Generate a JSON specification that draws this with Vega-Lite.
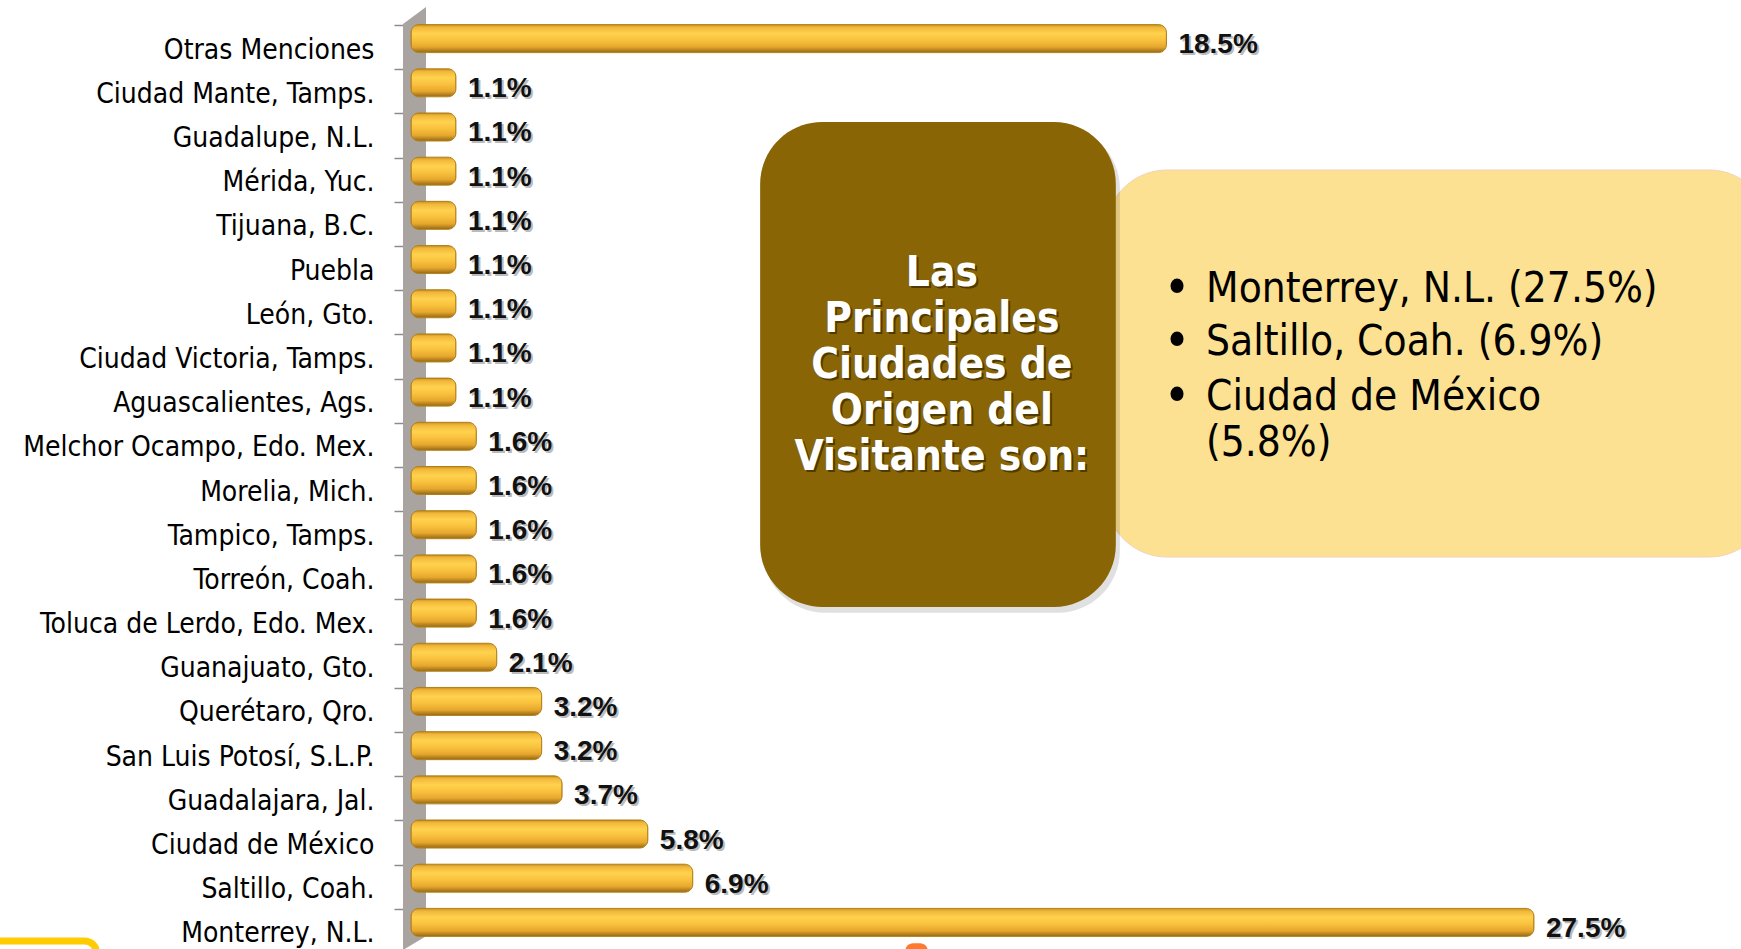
{
  "$schema": "https://vega.github.io/schema/vega-lite/v6.json",
  "width": 1330,
  "height": 928,
  "autosize": {"type": "none"},
  "padding": {"left": 411, "top": 25, "right": 0, "bottom": 0},
  "background": "#ffffff",
  "config": {"view": {"stroke": null}, "font": "DejaVu Sans Condensed, DejaVu Sans"},
  "datasets": {
    "bars": [
      {"city": "Otras Menciones", "pct": 18.5, "label": "18.5%"},
      {"city": "Ciudad Mante, Tamps.", "pct": 1.1, "label": "1.1%"},
      {"city": "Guadalupe, N.L.", "pct": 1.1, "label": "1.1%"},
      {"city": "Mérida, Yuc.", "pct": 1.1, "label": "1.1%"},
      {"city": "Tijuana, B.C.", "pct": 1.1, "label": "1.1%"},
      {"city": "Puebla", "pct": 1.1, "label": "1.1%"},
      {"city": "León, Gto.", "pct": 1.1, "label": "1.1%"},
      {"city": "Ciudad Victoria, Tamps.", "pct": 1.1, "label": "1.1%"},
      {"city": "Aguascalientes, Ags.", "pct": 1.1, "label": "1.1%"},
      {"city": "Melchor Ocampo, Edo. Mex.", "pct": 1.6, "label": "1.6%"},
      {"city": "Morelia, Mich.", "pct": 1.6, "label": "1.6%"},
      {"city": "Tampico, Tamps.", "pct": 1.6, "label": "1.6%"},
      {"city": "Torreón, Coah.", "pct": 1.6, "label": "1.6%"},
      {"city": "Toluca de Lerdo, Edo. Mex.", "pct": 1.6, "label": "1.6%"},
      {"city": "Guanajuato, Gto.", "pct": 2.1, "label": "2.1%"},
      {"city": "Querétaro, Qro.", "pct": 3.2, "label": "3.2%"},
      {"city": "San Luis Potosí, S.L.P.", "pct": 3.2, "label": "3.2%"},
      {"city": "Guadalajara, Jal.", "pct": 3.7, "label": "3.7%"},
      {"city": "Ciudad de México", "pct": 5.8, "label": "5.8%"},
      {"city": "Saltillo, Coah.", "pct": 6.9, "label": "6.9%"},
      {"city": "Monterrey, N.L.", "pct": 27.5, "label": "27.5%"}
    ],
    "title": [
      {"t": "Las", "x": 13.0, "y": 5.61},
      {"t": "Principales", "x": 13.0, "y": 6.65},
      {"t": "Ciudades de", "x": 13.0, "y": 7.69},
      {"t": "Origen del", "x": 13.0, "y": 8.73},
      {"t": "Visitante son:", "x": 13.0, "y": 9.78}
    ]
  },
  "layer": [
    {
      "data": {"values": [
        {"x": -0.196, "y": -0.023, "y2": 20.93},
        {"x": 0.367, "y": -0.407, "y2": 20.62}
      ]},
      "mark": {"type": "area", "color": "#a9a49f"},
      "encoding": {
        "x": {"field": "x", "type": "quantitative", "axis": null, "scale": {"domain": [0, 32.57], "nice": false, "zero": false}},
        "y": {"field": "y", "type": "quantitative", "axis": null, "scale": {"domain": [0, 21], "reverse": true, "nice": false, "zero": false}},
        "y2": {"field": "y2"}
      }
    },
    {
      "data": {"values": [{"x": -10.6, "x2": -7.7, "y": 20.73, "y2": 22}]},
      "mark": {"type": "rect", "fill": "#ffffff", "stroke": "#ffcc00", "strokeWidth": 7, "cornerRadius": 12},
      "encoding": {
        "x": {"field": "x", "type": "quantitative", "axis": null},
        "x2": {"field": "x2"},
        "y": {"field": "y", "type": "quantitative", "axis": null, "scale": {"domain": [0, 21], "reverse": true, "nice": false, "zero": false}},
        "y2": {"field": "y2"}
      }
    },
    {
      "data": {"values": [{"x": 12.1, "x2": 12.66, "y": 20.78, "y2": 21.2}]},
      "mark": {"type": "rect", "fill": "#ff7a2e", "cornerRadius": 8},
      "encoding": {
        "x": {"field": "x", "type": "quantitative", "axis": null},
        "x2": {"field": "x2"},
        "y": {"field": "y", "type": "quantitative", "axis": null, "scale": {"domain": [0, 21], "reverse": true, "nice": false, "zero": false}},
        "y2": {"field": "y2"}
      }
    },
    {
      "data": {"values": [{"x": 17.0, "x2": 33.3, "y": 3.28, "y2": 12.04}]},
      "mark": {"type": "rect", "fill": "#fde192", "stroke": "#f3d2b8", "strokeWidth": 1, "cornerRadius": 62},
      "encoding": {
        "x": {"field": "x", "type": "quantitative", "axis": null},
        "x2": {"field": "x2"},
        "y": {"field": "y", "type": "quantitative", "axis": null, "scale": {"domain": [0, 21], "reverse": true, "nice": false, "zero": false}},
        "y2": {"field": "y2"}
      }
    },
    {
      "data": {"values": [{"x": 8.62, "x2": 17.36, "y": 2.3, "y2": 13.3}]},
      "mark": {"type": "rect", "fill": "#000000", "opacity": 0.12, "cornerRadius": 62},
      "encoding": {
        "x": {"field": "x", "type": "quantitative", "axis": null},
        "x2": {"field": "x2"},
        "y": {"field": "y", "type": "quantitative", "axis": null, "scale": {"domain": [0, 21], "reverse": true, "nice": false, "zero": false}},
        "y2": {"field": "y2"}
      }
    },
    {
      "data": {"values": [{"x": 8.55, "x2": 17.26, "y": 2.195, "y2": 13.17}]},
      "mark": {"type": "rect", "fill": "#896505", "cornerRadius": 62},
      "encoding": {
        "x": {"field": "x", "type": "quantitative", "axis": null},
        "x2": {"field": "x2"},
        "y": {"field": "y", "type": "quantitative", "axis": null, "scale": {"domain": [0, 21], "reverse": true, "nice": false, "zero": false}},
        "y2": {"field": "y2"}
      }
    },
    {
      "data": {"name": "title"},
      "mark": {"type": "text", "align": "center", "baseline": "middle", "fontWeight": "bold", "fontSize": 42, "color": "#2a1e00", "opacity": 0.6, "dx": 2, "dy": 2},
      "encoding": {
        "x": {"field": "x", "type": "quantitative", "axis": null},
        "y": {"field": "y", "type": "quantitative", "axis": null, "scale": {"domain": [0, 21], "reverse": true, "nice": false, "zero": false}},
        "text": {"field": "t"}
      }
    },
    {
      "data": {"name": "title"},
      "mark": {"type": "text", "align": "center", "baseline": "middle", "fontWeight": "bold", "fontSize": 42, "color": "#ffffff"},
      "encoding": {
        "x": {"field": "x", "type": "quantitative", "axis": null},
        "y": {"field": "y", "type": "quantitative", "axis": null, "scale": {"domain": [0, 21], "reverse": true, "nice": false, "zero": false}},
        "text": {"field": "t"}
      }
    },
    {
      "data": {"values": [
        {"t": "•", "x": 18.76, "y": 5.98},
        {"t": "•", "x": 18.76, "y": 7.18},
        {"t": "•", "x": 18.76, "y": 8.42}
      ]},
      "mark": {"type": "text", "align": "center", "baseline": "middle", "fontSize": 50, "color": "#000000"},
      "encoding": {
        "x": {"field": "x", "type": "quantitative", "axis": null},
        "y": {"field": "y", "type": "quantitative", "axis": null, "scale": {"domain": [0, 21], "reverse": true, "nice": false, "zero": false}},
        "text": {"field": "t"}
      }
    },
    {
      "data": {"values": [
        {"t": "Monterrey, N.L. (27.5%)", "x": 19.47, "y": 5.98},
        {"t": "Saltillo, Coah. (6.9%)", "x": 19.47, "y": 7.18},
        {"t": "Ciudad de México", "x": 19.47, "y": 8.42},
        {"t": "(5.8%)", "x": 19.47, "y": 9.46}
      ]},
      "mark": {"type": "text", "align": "left", "baseline": "middle", "fontSize": 42, "color": "#000000"},
      "encoding": {
        "x": {"field": "x", "type": "quantitative", "axis": null},
        "y": {"field": "y", "type": "quantitative", "axis": null, "scale": {"domain": [0, 21], "reverse": true, "nice": false, "zero": false}},
        "text": {"field": "t"}
      }
    },
    {
      "data": {"name": "bars"},
      "mark": {
        "type": "bar", "size": 28, "yOffset": -8.5, "cornerRadius": 8,
        "stroke": "#b07f18", "strokeWidth": 1,
        "fill": {
          "gradient": "linear", "x1": 0, "y1": 0, "x2": 0, "y2": 1,
          "stops": [
            {"offset": 0, "color": "#c8921f"},
            {"offset": 0.1, "color": "#f2b73a"},
            {"offset": 0.32, "color": "#ffd24e"},
            {"offset": 0.55, "color": "#f9c23e"},
            {"offset": 0.8, "color": "#e6a72d"},
            {"offset": 1, "color": "#946815"}
          ]
        }
      },
      "encoding": {
        "y": {
          "field": "city", "type": "nominal", "sort": null,
          "scale": {"paddingInner": 0, "paddingOuter": 0},
          "axis": {
            "orient": "left", "title": null, "domain": false, "ticks": true, "tickBand": "extent",
            "tickSize": 9, "tickColor": "#8c8c8c", "tickWidth": 1.5, "offset": 8,
            "labelFont": "DejaVu Sans Condensed, DejaVu Sans", "labelFontSize": 28, "labelColor": "#000000",
            "labelPadding": 20, "labelLimit": 500, "labelOffset": 3
          }
        },
        "x": {"field": "pct", "type": "quantitative", "axis": null}
      }
    },
    {
      "data": {"name": "bars"},
      "mark": {"type": "text", "align": "left", "baseline": "middle", "dx": 14, "yOffset": 0, "font": "Liberation Sans", "fontWeight": "bold", "fontSize": 28, "color": "#7a7a7a", "opacity": 0.5},
      "encoding": {
        "y": {"field": "city", "type": "nominal", "sort": null, "scale": {"paddingInner": 0, "paddingOuter": 0}, "axis": null},
        "x": {"field": "pct", "type": "quantitative", "axis": null},
        "text": {"field": "label"}
      }
    },
    {
      "data": {"name": "bars"},
      "mark": {"type": "text", "align": "left", "baseline": "middle", "dx": 12, "yOffset": -2, "font": "Liberation Sans", "fontWeight": "bold", "fontSize": 28, "color": "#111111"},
      "encoding": {
        "y": {"field": "city", "type": "nominal", "sort": null, "scale": {"paddingInner": 0, "paddingOuter": 0}, "axis": null},
        "x": {"field": "pct", "type": "quantitative", "axis": null},
        "text": {"field": "label"}
      }
    }
  ],
  "resolve": {"scale": {"y": "independent"}}
}
